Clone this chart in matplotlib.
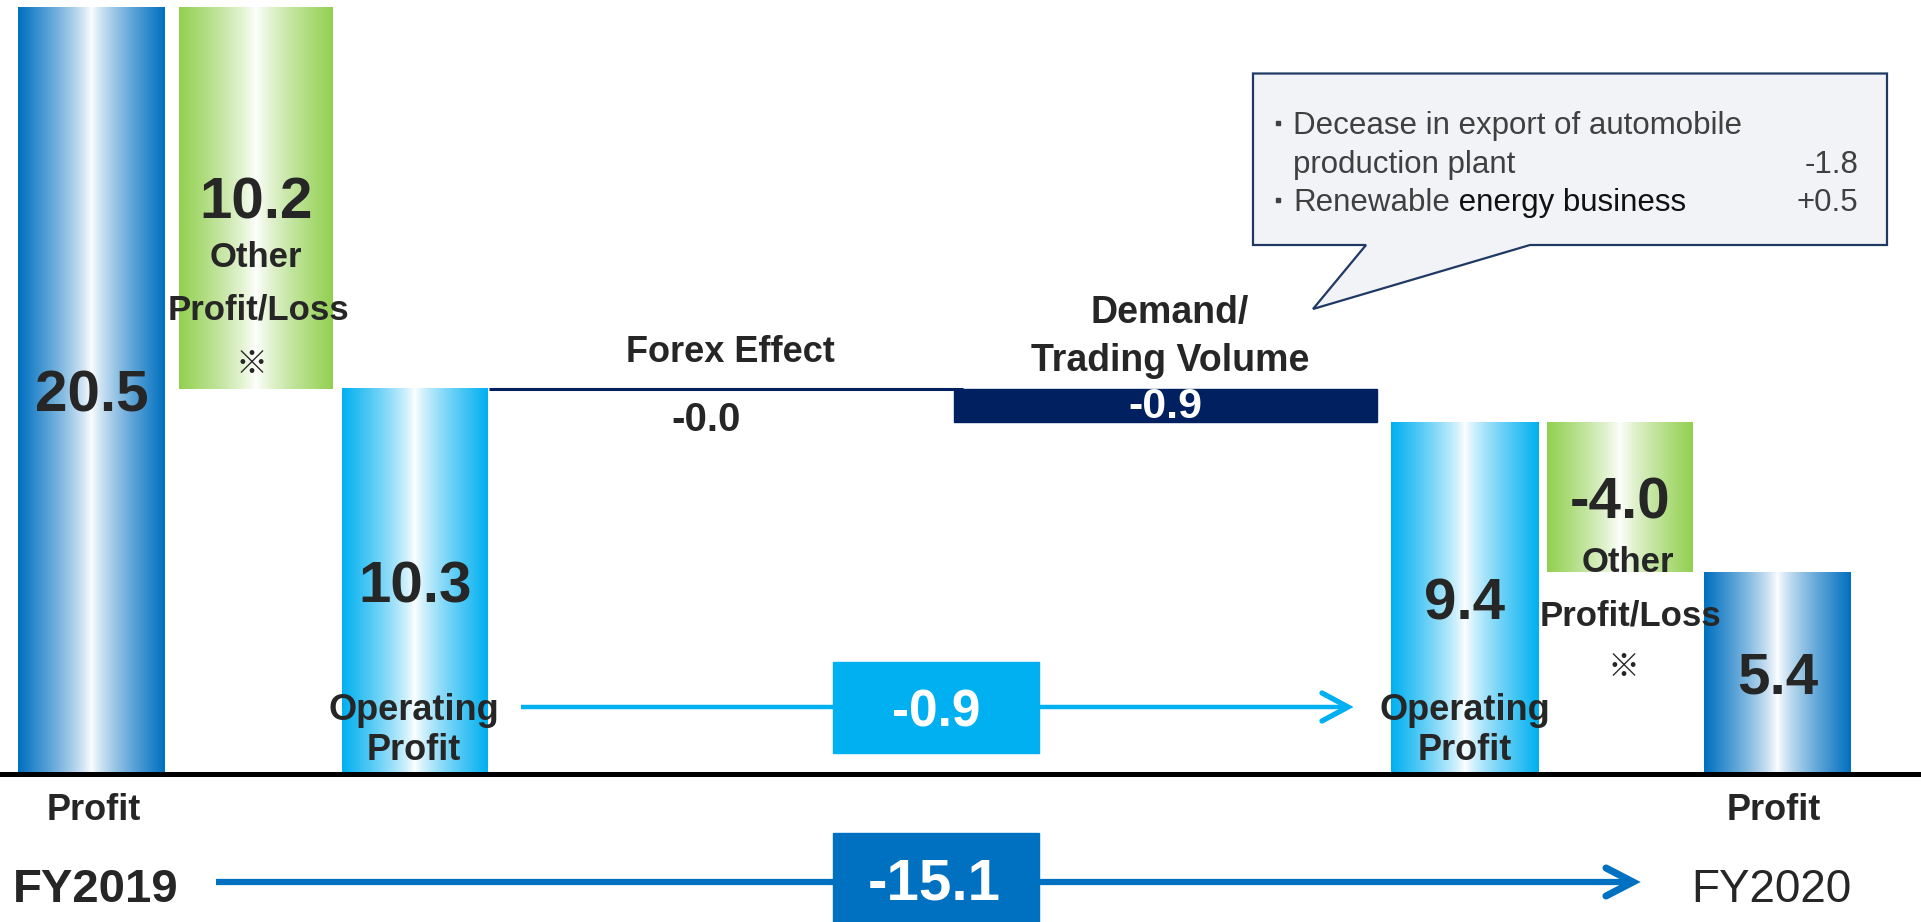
import numpy as np
import matplotlib
matplotlib.use('Agg')
import matplotlib.pyplot as plt
from matplotlib.patches import Polygon, Rectangle
from matplotlib.colors import to_rgb

plt.rcParams['font.family'] = ['Liberation Sans', 'Noto Sans CJK JP', 'DejaVu Sans']

# profit bridge FY2019 -> FY2020 (billion yen)
steps = ['Profit FY2019', 'Other Profit/Loss', 'Operating Profit', 'Forex Effect',
         'Demand/Trading Volume', 'Operating Profit', 'Other Profit/Loss', 'Profit FY2020']
profit_2019 = 20.5
other_2019 = 10.2
op_2019 = 10.3
forex = -0.0
demand = -0.9
op_2020 = 9.4
other_2020 = -4.0
profit_2020 = 5.4
op_change = -0.9
profit_change = -15.1

note_items = ['Decease in export of automobile', 'production plant', 'Renewable']
note_values = [-1.8, 0.5]

heights = [profit_2019, other_2019, op_2019, forex, demand, op_2020, other_2020, profit_2020]
bottoms = [0, op_2019, 0, op_2019, op_2019 + forex, 0, op_2020, 0]
kinds = ['blue', 'green', 'cyan', 'line', 'navy', 'cyan', 'green', 'blue']

# layout in pixels (figure is 1921 x 922 at dpi 100)
W, H = 1921, 922
base_px = 774
px_per_unit = 37.4
x_left = [18, 179, 342, 489, 954, 1391, 1547, 1704]
x_width = [147, 154, 146, 474, 423, 148, 146, 147]

edge_col = {'blue': '#0070C0', 'green': '#92D050', 'cyan': '#00B0F0'}
navy = '#002060'
dark = '#262626'

fig = plt.figure(figsize=(W / 100, H / 100), dpi=100)
ax = fig.add_axes([0, 0, 1, 1])
ov = fig.add_axes([0, 0, 1, 1])
ov.patch.set_alpha(0)


def grad_bar(x0, w, y0, h, col):
    t = np.abs(np.linspace(-1, 1, 300)) ** 0.8
    c = np.array(to_rgb(col))
    img = (1 - t)[:, None] * np.ones(3) + t[:, None] * c
    ax.imshow(img[None, :, :], extent=[x0, x0 + w, y0, y0 + h],
              aspect='auto', interpolation='bilinear', zorder=2)


def value_label(x, y, s, size, color=dark, dy=0.0):
    ax.annotate(s, (x, y), xytext=(0, -0.358 * size + dy), textcoords='offset points',
                ha='center', va='baseline', fontsize=size, fontweight='bold',
                color=color, zorder=5)


for h, b, k, x0, w in zip(heights, bottoms, kinds, x_left, x_width):
    cx = x0 + w / 2
    if k == 'line':
        ax.plot([x0, x0 + w], [b + h, b + h], color=navy, lw=2.2, zorder=3,
                solid_capstyle='butt')
        value_label(cx - 20, b + h, f'{h:.1f}', 29, dy=-28 * 0.72)
    elif k == 'navy':
        ax.add_patch(Rectangle((x0, b), w, h, color=navy, zorder=2))
        value_label(cx, b + h / 2, f'{h:.1f}', 31, color='white', dy=2)
    else:
        grad_bar(x0, w, b, h, edge_col[k])
        value_label(cx, b + h / 2, f'{h:.1f}', 42)

ax.axhline(0, color='black', lw=3.6, zorder=4)
ax.set_xlim(0, W)
ax.set_ylim((base_px - H) / px_per_unit, base_px / px_per_unit)
ax.axis('off')

ov.set_xlim(0, W)
ov.set_ylim(H, 0)
ov.axis('off')


def txt(x, yc, s, size, weight='bold', color=dark, ha='center', **kw):
    return ov.text(x, yc + 0.497 * size, s, fontsize=size, fontweight=weight,
                   color=color, ha=ha, va='baseline', **kw)


# category labels
for cx, ys in [(256, (255, 307, 359)), (1628, (560, 613, 662))]:
    txt(cx, ys[0], 'Other', 25)
    txt(cx + 2, ys[1], 'Profit/Loss', 25)
    txt(cx - 4, ys[2] + 3, '※', 23, family=['Noto Sans CJK JP'])
for cx in (414, 1465):
    txt(cx, 707, 'Operating', 26)
    txt(cx, 747, 'Profit', 26)
txt(730, 349, 'Forex Effect', 26)
txt(1170, 310, 'Demand/', 27)
txt(1170, 358, 'Trading Volume', 27)
txt(94, 807, 'Profit', 26)
txt(1774, 807, 'Profit', 26)
txt(96, 885, 'FY2019', 34)
txt(1771, 886, 'FY2020', 33, weight='normal')


def arrow(x0, x1, y, col, lw, head_len, head_half):
    ov.plot([x0, x1 - 2], [y, y], color=col, lw=lw, solid_capstyle='butt', zorder=2)
    ov.plot([x1 - head_len, x1, x1 - head_len], [y - head_half, y, y + head_half],
            color=col, lw=lw + 0.6, solid_capstyle='round', solid_joinstyle='miter',
            zorder=2)


# operating profit change
arrow(521, 1348, 707, '#00B0F0', 3.2, 26, 14)
ov.add_patch(Rectangle((833, 662), 206, 91, color='#00B0F0', zorder=3))
txt(936, 708, f'{op_change:.1f}', 37, color='white', zorder=4)

# profit change
arrow(216, 1633, 882, '#0070C0', 4.5, 27, 14)
ov.add_patch(Rectangle((833, 833), 206, 100, color='#0070C0', zorder=3))
txt(934, 879, f'{profit_change:.1f}', 42, color='white', zorder=4)

# callout on demand effect
callout = [(1253, 73.5), (1887, 73.5), (1887, 245), (1530, 245), (1313, 309),
           (1366, 245), (1253, 245)]
ov.add_patch(Polygon(callout, closed=True, facecolor='#F2F3F7', edgecolor='#1F3864',
                     lw=1.6, zorder=2))
grey = '#404040'
fs = 22.5
for yb in (123, 200):
    ov.add_patch(Rectangle((1276, yb - 2), 4, 4, color=grey, zorder=3))
txt(1293, 123, note_items[0], fs, weight='normal', color=grey, ha='left')
txt(1293, 162, note_items[1], fs, weight='normal', color=grey, ha='left')
txt(1858, 162, f'{note_values[0]:.1f}', fs, weight='normal', color=grey, ha='right')
t_ren = txt(1293, 200, note_items[2], fs, weight='normal', color=grey, ha='left')
ov.annotate(' energy business', xy=(1, 0), xycoords=t_ren, ha='left', va='bottom',
            fontsize=fs, color='#111111')
txt(1858, 200, f'{note_values[1]:+.1f}', fs, weight='normal', color=grey, ha='right')

fig.savefig('out.png', dpi=100)
